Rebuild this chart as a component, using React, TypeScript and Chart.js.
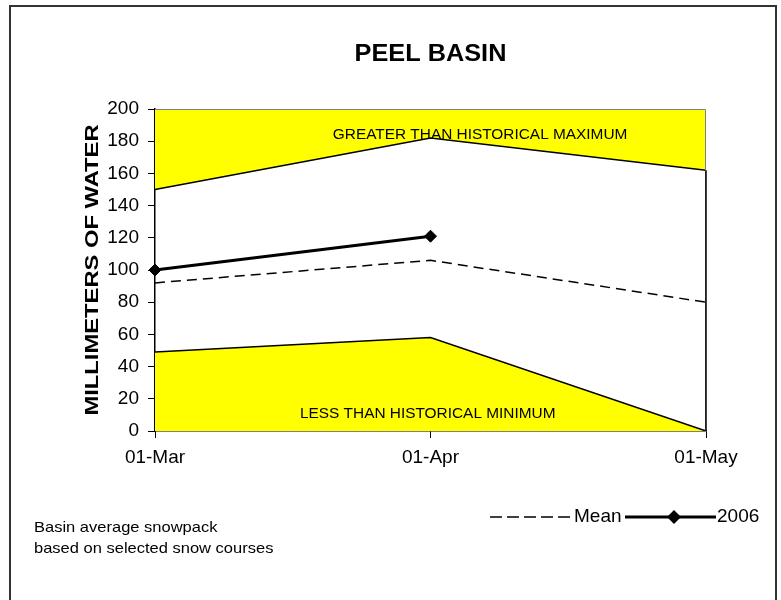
import React, { useEffect, useRef } from "react";
import { Chart, registerables } from "chart.js";

Chart.register(...registerables);

const categories = ["01-Mar", "01-Apr", "01-May"];
const historicalMax = [150, 182, 162];
const historicalMin = [49, 58, 0];
const meanValues = [92, 106, 80];
const values2006 = [100, 121, null];
const yTicks = [0, 20, 40, 60, 80, 100, 120, 140, 160, 180, 200];

const FONT = "'Liberation Sans', Arial, Helvetica, sans-serif";

function stretchedText(ctx: any, text: string, x: number, y: number, sx: number, rot = 0) {
  ctx.save();
  ctx.translate(x, y);
  if (rot) ctx.rotate(rot);
  ctx.scale(sx, 1);
  ctx.fillText(text, 0, 0);
  ctx.restore();
}

const decorPlugin = {
  id: "decor",
  beforeDraw(chart: any) {
    const ctx = chart.ctx;
    ctx.save();
    ctx.fillStyle = "#ffffff";
    ctx.fillRect(0, 0, chart.width, chart.height);
    ctx.restore();
  },
  afterDatasetsDraw(chart: any) {
    const ctx = chart.ctx;
    const a = chart.chartArea;
    const x = chart.scales.x;
    const y = chart.scales.y;
    ctx.save();
    ctx.strokeStyle = "#808080";
    ctx.lineWidth = 1;
    ctx.beginPath();
    ctx.moveTo(a.left, a.top + 0.5);
    ctx.lineTo(a.right - 0.5, a.top + 0.5);
    ctx.lineTo(a.right - 0.5, a.bottom);
    ctx.stroke();
    ctx.strokeStyle = "#000";
    ctx.lineWidth = 1.5;
    ctx.beginPath();
    const xr = x.getPixelForValue(categories.length - 1);
    ctx.moveTo(xr, y.getPixelForValue(historicalMax[historicalMax.length - 1]));
    ctx.lineTo(xr, y.getPixelForValue(0));
    ctx.stroke();
    ctx.fillStyle = "#000";
    ctx.font = `14px ${FONT}`;
    ctx.textAlign = "center";
    ctx.textBaseline = "middle";
    stretchedText(ctx, "GREATER THAN HISTORICAL MAXIMUM", a.left + (a.right - a.left) * 0.59, y.getPixelForValue(184), 1.1);
    stretchedText(ctx, "LESS THAN HISTORICAL MINIMUM", a.left + (a.right - a.left) * 0.495, y.getPixelForValue(10.5), 1.1);
    ctx.restore();
  },
  afterDraw(chart: any) {
    const ctx = chart.ctx;
    const a = chart.chartArea;
    ctx.save();
    ctx.strokeStyle = "#333";
    ctx.lineWidth = 2;
    ctx.beginPath();
    ctx.moveTo(10, 610);
    ctx.lineTo(10, 6);
    ctx.lineTo(776, 6);
    ctx.lineTo(776, 610);
    ctx.stroke();
    ctx.fillStyle = "#000";
    ctx.textAlign = "center";
    ctx.textBaseline = "middle";
    // title
    ctx.font = `bold 23px ${FONT}`;
    stretchedText(ctx, "PEEL BASIN", (a.left + a.right) / 2, 55, 1.1);
    // y axis title
    ctx.font = `bold 19px ${FONT}`;
    stretchedText(ctx, "MILLIMETERS OF WATER", 93, (a.top + a.bottom) / 2, 1.25, -Math.PI / 2);
    // legend
    const ly = 517;
    ctx.strokeStyle = "#000";
    ctx.lineWidth = 1.5;
    ctx.setLineDash([12, 5]);
    ctx.beginPath();
    ctx.moveTo(490, ly);
    ctx.lineTo(570, ly);
    ctx.stroke();
    ctx.setLineDash([]);
    ctx.font = `19px ${FONT}`;
    ctx.textAlign = "left";
    ctx.fillText("Mean", 574, ly);
    ctx.lineWidth = 3;
    ctx.beginPath();
    ctx.moveTo(625, ly);
    ctx.lineTo(716, ly);
    ctx.stroke();
    ctx.beginPath();
    ctx.moveTo(674, ly - 7);
    ctx.lineTo(681, ly);
    ctx.lineTo(674, ly + 7);
    ctx.lineTo(667, ly);
    ctx.closePath();
    ctx.fill();
    ctx.fillText("2006", 717, ly);
    // footnote
    ctx.font = `15px ${FONT}`;
    stretchedText(ctx, "Basin average snowpack", 34, 528, 1.1);
    stretchedText(ctx, "based on selected snow courses", 34, 549, 1.1);
    ctx.restore();
  },
};

export default function App() {
  const canvasRef = useRef<HTMLCanvasElement | null>(null);

  useEffect(() => {
    const canvas = canvasRef.current;
    if (!canvas) return;
    const chart = new Chart(canvas, {
      type: "line",
      data: {
        labels: categories,
        datasets: [
          {
            label: "Max",
            data: historicalMax,
            borderColor: "#000",
            borderWidth: 1.5,
            backgroundColor: "#ffff00",
            fill: "end",
            pointRadius: 0,
            tension: 0,
          },
          {
            label: "Min",
            data: historicalMin,
            borderColor: "#000",
            borderWidth: 1.5,
            backgroundColor: "#ffff00",
            fill: "start",
            pointRadius: 0,
            tension: 0,
          },
          {
            label: "Mean",
            data: meanValues,
            borderColor: "#000",
            borderWidth: 1.5,
            borderDash: [10, 6],
            fill: false,
            pointRadius: 0,
            tension: 0,
          },
          {
            label: "2006",
            data: values2006,
            borderColor: "#000",
            backgroundColor: "#000",
            borderWidth: 3,
            fill: false,
            pointStyle: "rectRot",
            pointRadius: 6,
            pointBorderWidth: 1,
            tension: 0,
            spanGaps: false,
          },
        ],
      },
      options: {
        animation: false,
        responsive: false,
        maintainAspectRatio: false,
        events: [],
        layout: { padding: { left: 82, top: 109, right: 75, bottom: 0 } },
        plugins: {
          legend: { display: false },
          title: { display: false },
          tooltip: { enabled: false },
        },
        scales: {
          x: {
            type: "category",
            offset: false,
            afterFit: (s: any) => {
              s.height = 169;
            },
            border: { display: true, color: "#000", width: 1.5 },
            grid: {
              display: true,
              drawOnChartArea: false,
              drawTicks: true,
              tickLength: 7,
              color: "#000",
            },
            ticks: {
              color: "#000",
              font: { family: FONT, size: 19 },
              padding: 8,
              maxRotation: 0,
            },
          },
          y: {
            min: 0,
            max: 200,
            afterFit: (s: any) => {
              s.width = 73;
            },
            afterBuildTicks: (s: any) => {
              s.ticks = yTicks.map((v) => ({ value: v }));
            },
            border: { display: true, color: "#000", width: 1.5 },
            grid: {
              display: true,
              drawOnChartArea: false,
              drawTicks: true,
              tickLength: 7,
              color: "#000",
            },
            ticks: {
              color: "#000",
              font: { family: FONT, size: 19 },
              padding: 9,
            },
            title: { display: false },
          },
        },
      },
      plugins: [decorPlugin],
    });
    return () => chart.destroy();
  }, []);

  return (
    <div style={{ position: "absolute", left: 0, top: 0, width: 781, height: 600, background: "#fff" }}>
      <canvas ref={canvasRef} width={781} height={600} style={{ display: "block", width: 781, height: 600 }} />
    </div>
  );
}
